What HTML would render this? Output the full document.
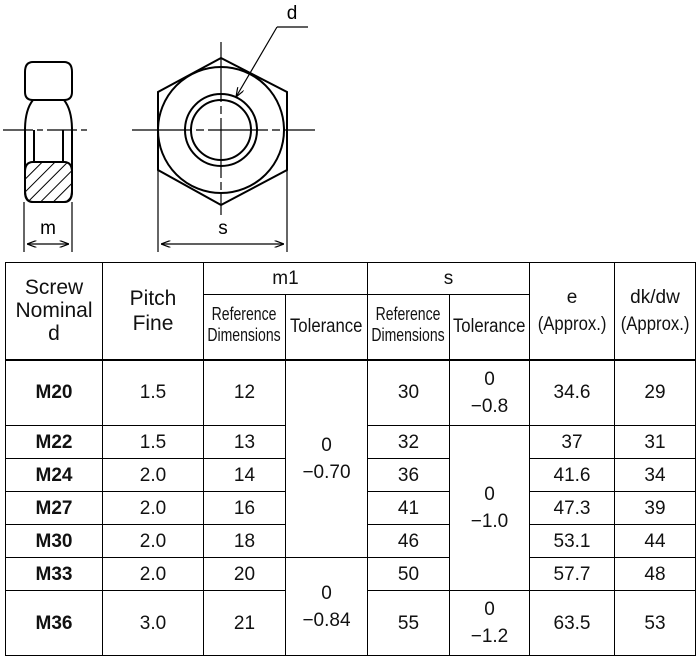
<!DOCTYPE html>
<html><head><style>
body{margin:0;background:#fff;width:700px;height:660px;overflow:hidden;font-family:"Liberation Sans",sans-serif;}
svg{position:absolute;left:0;top:0}
table{position:absolute;left:5px;top:262px;border-collapse:collapse;width:691px;height:393px;}
td{border:1px solid #000;text-align:center;padding:0;font-size:19px;line-height:27px;color:#111;white-space:nowrap;overflow:hidden}
.c{display:inline-block;font-size:18px;line-height:21px;transform:scaleX(0.78);margin:0 -12px}
.t{display:inline-block;font-size:19px;transform:scaleX(0.88);margin:0 -6px}
b{font-weight:bold}
</style></head><body>
<svg width="700" height="262" viewBox="0 0 700 262">
<defs><pattern id="h" width="9" height="9" patternUnits="userSpaceOnUse" patternTransform="rotate(45)"><line x1="0" y1="0" x2="0" y2="9" stroke="#000" stroke-width="2"/></pattern>
<marker id="a" markerWidth="8" markerHeight="6" refX="8" refY="3" orient="auto-start-reverse"><path d="M0,0L8,3L0,6" fill="none" stroke="#000"/></marker></defs>
<g fill="none" stroke="#000" stroke-width="2">
<path d="M33,62 H64 Q72,62 72,72 V92 Q72,100 64,100 H33 Q25,100 25,92 V72 Q25,62 33,62Z"/>
<path d="M33,100 Q25,110 25,130 V190 Q25,202 33,202 H64 Q72,202 72,190 V130 Q72,110 64,100"/>
<line x1="34" y1="130" x2="34" y2="162"/><line x1="63" y1="130" x2="63" y2="162"/>
<path d="M33,162 H64 Q72,162 72,172 V192 Q72,202 64,202 H33 Q25,202 25,192 V172 Q25,162 33,162Z" fill="url(#h)"/>
<polygon points="221,58 287,92 287,170 221,205 158,170 158,92"/>
<circle cx="221" cy="130" r="63"/>
<circle cx="221" cy="130" r="36"/>
<circle cx="221" cy="130" r="30"/>
</g>
<g stroke="#000" stroke-width="1.2" fill="none">
<line x1="3" y1="130" x2="90" y2="130" stroke-dasharray="30,4,6,4"/>
<line x1="132" y1="130" x2="315" y2="130" stroke-dasharray="60,4,8,4"/>
<line x1="221" y1="42" x2="221" y2="215" stroke-dasharray="60,4,8,4"/>
<line x1="24" y1="202" x2="24" y2="252"/><line x1="72" y1="202" x2="72" y2="252"/>
<line x1="27" y1="244" x2="69" y2="244" marker-start="url(#a)" marker-end="url(#a)"/>
<line x1="158" y1="170" x2="158" y2="252"/><line x1="287" y1="170" x2="287" y2="252"/>
<line x1="161" y1="244" x2="284" y2="244" marker-start="url(#a)" marker-end="url(#a)"/>
<line x1="308" y1="27" x2="277" y2="27"/><line x1="277" y1="27" x2="236" y2="97" marker-end="url(#a)"/>
</g>
<g font-family="Liberation Sans" font-size="19" fill="#000" text-anchor="middle">
<text x="48" y="234">m</text><text x="223" y="234">s</text><text x="292" y="19">d</text>
</g>
</svg>
<table>
<tr style="height:32px"><td rowspan="2" style="width:96px;font-size:21px;line-height:23px">Screw<br>Nominal<br>d</td><td rowspan="2" style="width:100px;font-size:21px;line-height:25px">Pitch<br>Fine</td><td colspan="2">m1</td><td colspan="2">s</td><td rowspan="2" style="width:84px">e<br><span class="t">(Approx.)</span></td><td rowspan="2">dk/dw<br><span class="t">(Approx.)</span></td></tr>
<tr style="height:65px;border-bottom:2px solid #000"><td style="width:81px"><span class="c">Reference<br>Dimensions</span></td><td style="width:81px"><span class="t">Tolerance</span></td><td style="width:81px"><span class="c">Reference<br>Dimensions</span></td><td style="width:79px"><span class="t">Tolerance</span></td></tr>
<tr style="height:66px"><td><b>M20</b></td><td>1.5</td><td>12</td><td rowspan="5">0<br>−0.70</td><td>30</td><td>0<br>−0.8</td><td>34.6</td><td>29</td></tr>
<tr style="height:33px"><td><b>M22</b></td><td>1.5</td><td>13</td><td>32</td><td rowspan="5">0<br>−1.0</td><td>37</td><td>31</td></tr>
<tr style="height:33px"><td><b>M24</b></td><td>2.0</td><td>14</td><td>36</td><td>41.6</td><td>34</td></tr>
<tr style="height:33px"><td><b>M27</b></td><td>2.0</td><td>16</td><td>41</td><td>47.3</td><td>39</td></tr>
<tr style="height:33px"><td><b>M30</b></td><td>2.0</td><td>18</td><td>46</td><td>53.1</td><td>44</td></tr>
<tr style="height:33px"><td><b>M33</b></td><td>2.0</td><td>20</td><td rowspan="2">0<br>−0.84</td><td>50</td><td>57.7</td><td>48</td></tr>
<tr style="height:65px"><td><b>M36</b></td><td>3.0</td><td>21</td><td>55</td><td>0<br>−1.2</td><td>63.5</td><td>53</td></tr>
</table>
</body></html>
